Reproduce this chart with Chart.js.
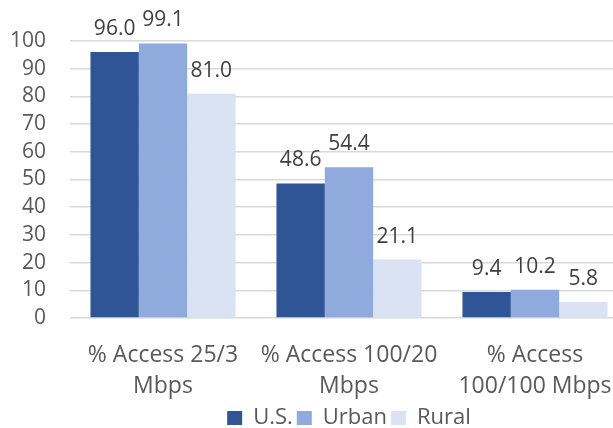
<!DOCTYPE html>
<html>
<head>
<meta charset="utf-8">
<script src="https://cdn.jsdelivr.net/npm/chart.js@4/dist/chart.umd.min.js"></script>
<style>
  html, body { margin: 0; padding: 0; background: #fff; overflow: hidden; }
  /* the plot runs a little past the right edge, as in the original */
  #wrap { width: 628px; height: 428px; }
</style>
</head>
<body>
<div id="wrap"><canvas id="bar_chart"></canvas></div>
<script>
const categories = [["% Access 25/3", "Mbps"], ["% Access 100/20", "Mbps"], ["% Access", "100/100 Mbps"]];
const us_values = [96.0, 48.6, 9.4];
const urban_values = [99.1, 54.4, 10.2];
const rural_values = [81.0, 21.1, 5.8];
const y_ticks = [0, 10, 20, 30, 40, 50, 60, 70, 80, 90, 100];

const font_family = '"Open Sans", "Noto Sans", sans-serif';

// draws the value above each bar
const value_labels = {
    id: 'value_labels',
    afterDatasetsDraw(chart) {
        const ctx = chart.ctx;
        ctx.save();
        ctx.font = `21px ${font_family}`;
        ctx.fillStyle = '#404040';
        ctx.textAlign = 'center';
        ctx.textBaseline = 'alphabetic';
        chart.data.datasets.forEach((ds, i) => {
            chart.getDatasetMeta(i).data.forEach((bar, j) => {
                ctx.fillText(ds.data[j].toFixed(1), bar.x, bar.y - 17);
            });
        });
        ctx.restore();
    }
};

const data = {
    labels: categories,
    datasets: [
        { label: 'U.S.', data: us_values, backgroundColor: '#2f5597' },
        { label: 'Urban', data: urban_values, backgroundColor: '#8faadc' },
        { label: 'Rural', data: rural_values, backgroundColor: '#dae3f3' }
    ]
};

const config = {
    type: 'bar',
    data: data,
    plugins: [value_labels],
    options: {
        responsive: true,
        maintainAspectRatio: false,
        animation: false,
        layout: { padding: { top: 41, left: 0, right: 0, bottom: -11 } },
        datasets: {
            bar: { categoryPercentage: 0.78, barPercentage: 1.0 }
        },
        scales: {
            x: {
                grid: { display: false, drawTicks: false },
                border: { display: false },
                afterFit: (axis) => {
                    axis.height = 85;
                    axis.paddingLeft = 0;
                    axis.paddingRight = 0;
                },
                ticks: {
                    color: '#595959',
                    font: { family: font_family, size: 23, lineHeight: 1.35 },
                    padding: 22,
                    maxRotation: 0,
                    autoSkip: false
                }
            },
            y: {
                min: 0,
                max: 100,
                afterBuildTicks: (axis) => { axis.ticks = y_ticks.map((v) => ({ value: v })); },
                afterFit: (axis) => { axis.width = 70; },
                grid: { color: '#d9d9d9', lineWidth: 1.5, drawTicks: false },
                border: { display: false },
                ticks: {
                    color: '#595959',
                    font: { family: font_family, size: 21 },
                    padding: 24,
                    autoSkip: false
                }
            }
        },
        plugins: {
            legend: {
                position: 'bottom',
                fullSize: false,
                labels: {
                    color: '#595959',
                    font: { family: font_family, size: 22, lineHeight: 1 },
                    boxWidth: 15,
                    boxHeight: 14,
                    padding: 4
                }
            },
            tooltip: { enabled: false }
        }
    }
};

var ctx_bar = document.getElementById("bar_chart");
var bar_chart = new Chart(ctx_bar, config);
</script>
</body>
</html>
